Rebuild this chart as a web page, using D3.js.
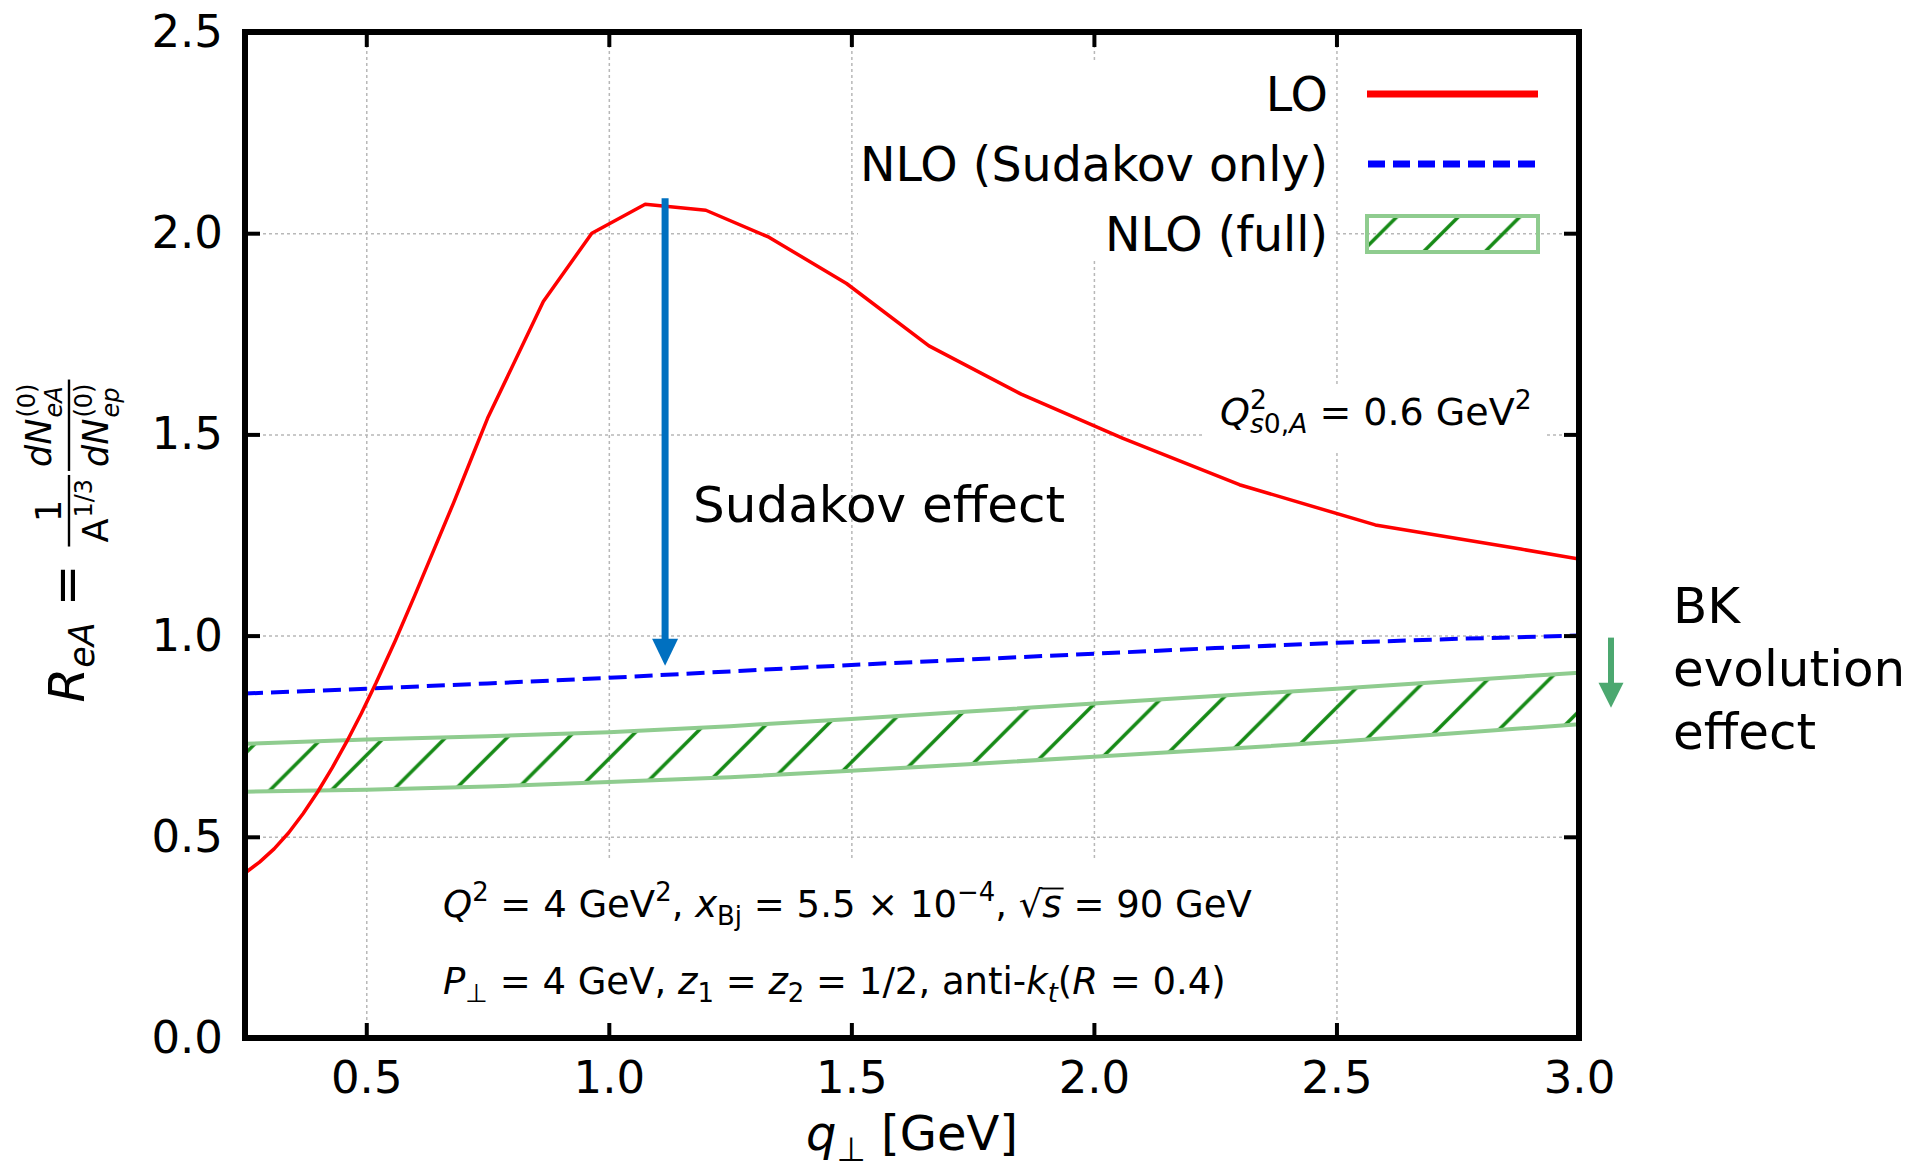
<!DOCTYPE html>
<html>
<head>
<meta charset="utf-8">
<script src="https://cdn.jsdelivr.net/npm/d3@7"></script>
<style>
  body { margin: 0; background: #fff; }
  svg { display: block; }
  text { font-family: "DejaVu Sans", sans-serif; fill: #000; white-space: pre; }
</style>
</head>
<body>
<div id="chart"></div>
<script>
'use strict'

// LO curve
const loX = [0.25, 0.28, 0.31, 0.34, 0.37, 0.40, 0.43, 0.46, 0.49, 0.52, 0.56, 0.60, 0.64,
             0.68, 0.72, 0.75, 0.865, 0.965, 1.075, 1.20, 1.33, 1.49, 1.66, 1.85, 2.06,
             2.30, 2.58, 2.88, 3.0];
const loY = [0.41, 0.437, 0.47, 0.51, 0.558, 0.612, 0.672, 0.737, 0.807, 0.882, 0.988, 1.10, 1.215,
             1.33, 1.45, 1.54, 1.83, 2.00, 2.072, 2.057, 1.99, 1.875, 1.72, 1.60, 1.49,
             1.375, 1.275, 1.215, 1.19];

// NLO (Sudakov only)
const sudX = [0.25, 0.5, 0.75, 1.0, 1.25, 1.5, 1.75, 2.0, 2.25, 2.5, 2.75, 3.0];
const sudY = [0.856, 0.868, 0.881, 0.895, 0.911, 0.927, 0.941, 0.955, 0.969, 0.982, 0.992, 1.0];

// NLO (full) band
const fullX = [0.25, 0.5, 0.75, 1.0, 1.25, 1.5, 1.75, 2.0, 2.25, 2.5, 2.75, 3.0];
const fullHigh = [0.731, 0.742, 0.750, 0.760, 0.775, 0.793, 0.812, 0.831, 0.850, 0.868, 0.888, 0.908];
const fullLow = [0.612, 0.617, 0.625, 0.636, 0.648, 0.664, 0.681, 0.699, 0.717, 0.736, 0.758, 0.780];

const xTicks = [0.5, 1.0, 1.5, 2.0, 2.5, 3.0];
const yTicks = [0.0, 0.5, 1.0, 1.5, 2.0, 2.5];
const legendLabels = ['LO', 'NLO (Sudakov only)', 'NLO (full)'];

// annotation arrows, in data units
const sudakovArrow = {x: 1.116, from: 2.087, to: 0.925};
const bkArrow = {x: 3.066, from: 0.995, to: 0.821};

const W = 1912, H = 1167;
const x = d3.scaleLinear().domain([0.25, 3.0]).range([245, 1579]);
const y = d3.scaleLinear().domain([0, 2.5]).range([1038, 32]);
const plotH = y(0) - y(2.5);

const svg = d3.select('#chart').append('svg')
    .attr('width', W)
    .attr('height', H);

const defs = svg.append('defs');
defs.append('clipPath').attr('id', 'plotclip')
    .append('rect')
    .attr('x', x(0.25)).attr('y', y(2.5))
    .attr('width', x(3.0) - x(0.25)).attr('height', plotH);

const hs = 61.5;
const hatch = defs.append('pattern')
    .attr('id', 'hatch')
    .attr('patternUnits', 'userSpaceOnUse')
    .attr('x', 14.7)
    .attr('width', hs).attr('height', hs);
hatch.append('path')
    .attr('d', `M-10,${hs + 10}L${hs + 10},-10M-10,10L10,-10M${hs - 10},${hs + 10}L${hs + 10},${hs - 10}`)
    .attr('stroke', '#168a16')
    .attr('stroke-width', 3.5);

// grid
const grid = svg.append('g').attr('class', 'grid');
grid.append('g')
    .attr('transform', `translate(0,${y(0)})`)
    .call(d3.axisBottom(x).tickValues(xTicks.slice(0, -1)).tickSize(-plotH).tickFormat(''));
grid.append('g')
    .attr('transform', `translate(${x(0.25)},0)`)
    .call(d3.axisLeft(y).tickValues(yTicks.slice(1, -1)).tickSize(-(x(3.0) - x(0.25))).tickFormat(''));
grid.selectAll('.domain').remove();
grid.selectAll('line')
    .attr('stroke', '#b8b8b8')
    .attr('stroke-width', 1.5)
    .attr('stroke-dasharray', '3,3');

// white boxes behind the text blocks
const boxes = [
    {x0: 858, x1: 1335, y0: 60, y1: 258},
    {x0: 1205, x1: 1545, y0: 385, y1: 452},
    {x0: 430, x1: 1275, y0: 858, y1: 1035}
];
svg.append('g').selectAll('rect')
    .data(boxes)
    .enter().append('rect')
    .attr('x', d => d.x0).attr('y', d => d.y0)
    .attr('width', d => d.x1 - d.x0).attr('height', d => d.y1 - d.y0)
    .attr('fill', '#fff');

const plot = svg.append('g').attr('clip-path', 'url(#plotclip)');

// NLO (full) band
const bandData = fullX.map((d, i) => ({x: d, lo: fullLow[i], hi: fullHigh[i]}));
plot.append('path')
    .datum(bandData)
    .attr('d', d3.area().x(d => x(d.x)).y0(d => y(d.lo)).y1(d => y(d.hi)))
    .attr('fill', 'url(#hatch)');
['lo', 'hi'].forEach(k => {
    plot.append('path')
        .datum(bandData)
        .attr('d', d3.line().x(d => x(d.x)).y(d => y(d[k])))
        .attr('fill', 'none')
        .attr('stroke', '#8fcc8f')
        .attr('stroke-width', 4);
});

// NLO (Sudakov only)
plot.append('path')
    .datum(sudX.map((d, i) => [d, sudY[i]]))
    .attr('d', d3.line().x(d => x(d[0])).y(d => y(d[1])))
    .attr('fill', 'none')
    .attr('stroke', '#0000ff')
    .attr('stroke-width', 4)
    .attr('stroke-dasharray', '18,8');

// LO
plot.append('path')
    .datum(loX.map((d, i) => [d, loY[i]]))
    .attr('d', d3.line().x(d => x(d[0])).y(d => y(d[1])))
    .attr('fill', 'none')
    .attr('stroke', '#ff0000')
    .attr('stroke-width', 3.5)
    .attr('stroke-linejoin', 'round');

// axes, ticks inward on all four sides
const fmt = d3.format('.1f');
const axes = [
    {gen: d3.axisBottom(x).tickValues(xTicks).tickFormat(fmt).tickPadding(23), t: `translate(0,${y(0)})`},
    {gen: d3.axisTop(x).tickValues(xTicks).tickFormat(''), t: `translate(0,${y(2.5)})`},
    {gen: d3.axisLeft(y).tickValues(yTicks).tickFormat(fmt).tickPadding(22), t: `translate(${x(0.25)},0)`},
    {gen: d3.axisRight(y).tickValues(yTicks).tickFormat(''), t: `translate(${x(3.0)},0)`}
];
axes.forEach(a => {
    const g = svg.append('g')
        .attr('transform', a.t)
        .call(a.gen.tickSizeInner(-15).tickSizeOuter(0));
    g.select('.domain').remove();
    g.attr('font-size', 45).attr('font-family', null);
    g.selectAll('line').attr('stroke', '#000').attr('stroke-width', 4);
});

svg.append('rect')
    .attr('x', x(0.25)).attr('y', y(2.5))
    .attr('width', x(3.0) - x(0.25)).attr('height', plotH)
    .attr('fill', 'none')
    .attr('stroke', '#000')
    .attr('stroke-width', 6);

// math-like text from pieces
function mathText(parent, px, py, size, parts, anchor) {
    const t = parent.append('text')
        .attr('x', px).attr('y', py)
        .attr('text-anchor', anchor || 'start')
        .style('font-size', size + 'px');
    let shift = 0;
    const marks = [];
    parts.forEach(p => {
        const off = p.pos === 'sup' ? -0.42 * size : p.pos === 'sub' ? 0.22 * size : 0;
        const ts = t.append('tspan').text(p.t)
            .attr('dy', off - shift)
            .style('font-size', (p.pos ? 0.7 * size : size) + 'px')
            .style('font-style', p.it ? 'italic' : 'normal');
        if (p.dx) ts.attr('dx', p.dx * size);
        if (p.over) marks.push(ts.node());
        shift = off;
    });
    marks.forEach(n => {
        const a = n.getStartPositionOfChar(0);
        const b = n.getEndPositionOfChar(n.getNumberOfChars() - 1);
        parent.append('line')
            .attr('x1', a.x - 1).attr('x2', b.x + 2)
            .attr('y1', py - 0.77 * size).attr('y2', py - 0.77 * size)
            .attr('stroke', '#000').attr('stroke-width', size * 0.05);
    });
    return t;
}

const notes = svg.append('g');
mathText(notes, 1220, 425, 38, [
    {t: 'Q', it: 1}, {t: '2', pos: 'sup'},
    {t: 's', it: 1, pos: 'sub', dx: -0.445}, {t: '0,', pos: 'sub'}, {t: 'A', it: 1, pos: 'sub'},
    {t: ' = 0.6 GeV'}, {t: '2', pos: 'sup'}
]);
mathText(notes, 443, 917, 37, [
    {t: 'Q', it: 1}, {t: '2', pos: 'sup'}, {t: ' = 4 GeV'}, {t: '2', pos: 'sup'}, {t: ', '},
    {t: 'x', it: 1}, {t: 'Bj', pos: 'sub'}, {t: ' = 5.5 × 10'}, {t: '−4', pos: 'sup'},
    {t: ', √'}, {t: 's', it: 1, over: 1}, {t: ' = 90 GeV'}
]);
mathText(notes, 443, 994, 37, [
    {t: 'P', it: 1}, {t: '⊥', pos: 'sub'}, {t: ' = 4 GeV, '},
    {t: 'z', it: 1}, {t: '1', pos: 'sub'}, {t: ' = '}, {t: 'z', it: 1}, {t: '2', pos: 'sub'},
    {t: ' = 1/2, anti-'}, {t: 'k', it: 1}, {t: 't', it: 1, pos: 'sub'}, {t: '('},
    {t: 'R', it: 1}, {t: ' = 0.4)'}
]);

// x label
mathText(svg, (x(0.25) + x(3.0)) / 2, 1150, 48, [
    {t: 'q', it: 1}, {t: '⊥', pos: 'sub'}, {t: ' [GeV]'}
], 'middle');

// y label: R_eA = 1/A^(1/3) dN_eA/dN_ep
const ylab = svg.append('g');
const yl = ylab.append('g');
const mS = 50, fS = 35, sS = 24, barY = 69, mainBase = 84;
function term(g, base, baseItalic, sub, sup) {
    const t = g.append('text').style('font-size', fS + 'px')
        .style('font-style', baseItalic ? 'italic' : 'normal').text(base);
    const w = t.node().getComputedTextLength();
    if (sub) g.append('text').attr('x', w + 1).attr('y', 0.3 * fS)
        .style('font-size', sS + 'px').style('font-style', 'italic').text(sub);
    if (sup) g.append('text').attr('x', w + 1).attr('y', -0.45 * fS)
        .style('font-size', sS + 'px').text(sup);
}
function fraction(g, x0, num, den, numSub) {
    const gn = g.append('g'), gd = g.append('g');
    num(gn); den(gd);
    const bn = gn.node().getBBox(), bd = gd.node().getBBox();
    const w = Math.max(bn.width, bd.width) + 8;
    gn.attr('transform', `translate(${x0 + (w - bn.width) / 2 - bn.x},${barY - 8 - (numSub ? 10 : 0)})`);
    gd.attr('transform', `translate(${x0 + (w - bd.width) / 2 - bd.x},${barY + 7 + 32})`);
    g.append('line')
        .attr('x1', x0).attr('x2', x0 + w)
        .attr('y1', barY).attr('y2', barY)
        .attr('stroke', '#000').attr('stroke-width', 2.4);
    return x0 + w;
}
const lhs = yl.append('text').attr('x', 0).attr('y', mainBase).style('font-size', mS + 'px');
lhs.append('tspan').text('R').style('font-style', 'italic');
lhs.append('tspan').text('eA').attr('dy', 10).style('font-size', fS + 'px').style('font-style', 'italic');
lhs.append('tspan').text(' = ').attr('dy', -10);
let cx = lhs.node().getComputedTextLength() + 2;
cx = fraction(yl, cx,
    g => term(g, '1', false),
    g => term(g, 'A', false, null, '1/3'), false);
cx = fraction(yl, cx + 4,
    g => term(g, 'dN', true, 'eA', '(0)'),
    g => term(g, 'dN', true, 'ep', '(0)'), true);
// centre the label along the plot height
yl.attr('transform', `translate(${-(y(0) + y(2.5)) / 2 - cx / 2 - 6},0)`);
ylab.attr('transform', 'rotate(-90)');

// legend
const legend = svg.append('g');
const rowY = [94, 164, 234];
legend.selectAll('text')
    .data(legendLabels)
    .enter().append('text')
    .attr('x', 1328)
    .attr('y', (d, i) => rowY[i] + 17)
    .attr('text-anchor', 'end')
    .style('font-size', '47.5px')
    .text(d => d);
legend.append('line')
    .attr('x1', 1367).attr('x2', 1538).attr('y1', rowY[0]).attr('y2', rowY[0])
    .attr('stroke', '#ff0000').attr('stroke-width', 7);
legend.append('line')
    .attr('x1', 1368).attr('x2', 1538).attr('y1', rowY[1]).attr('y2', rowY[1])
    .attr('stroke', '#0000ff').attr('stroke-width', 7).attr('stroke-dasharray', '17,8');
legend.append('rect')
    .attr('x', 1367).attr('y', rowY[2] - 18).attr('width', 171).attr('height', 36)
    .attr('fill', 'url(#hatch)')
    .attr('stroke', '#8fcc8f').attr('stroke-width', 4);

// arrows
function arrow(a, color, shaft, headW, headL) {
    const ax = x(a.x), y0 = y(a.from), y1 = y(a.to);
    svg.append('line')
        .attr('x1', ax).attr('x2', ax).attr('y1', y0).attr('y2', y1 - headL + 2)
        .attr('stroke', color).attr('stroke-width', shaft);
    svg.append('path')
        .attr('d', `M${ax - headW / 2},${y1 - headL}L${ax + headW / 2},${y1 - headL}L${ax},${y1}Z`)
        .attr('fill', color);
}
arrow(sudakovArrow, '#0070c0', 7, 26, 27);
arrow(bkArrow, '#4ca870', 6, 25, 25);

svg.append('text').attr('x', 693).attr('y', 522).style('font-size', '50px').text('Sudakov effect');
svg.append('g').selectAll('text')
    .data(['BK', 'evolution', 'effect'])
    .enter().append('text')
    .attr('x', 1673)
    .attr('y', (d, i) => 623 + i * 63)
    .style('font-size', '50px')
    .text(d => d);
</script>
</body>
</html>
